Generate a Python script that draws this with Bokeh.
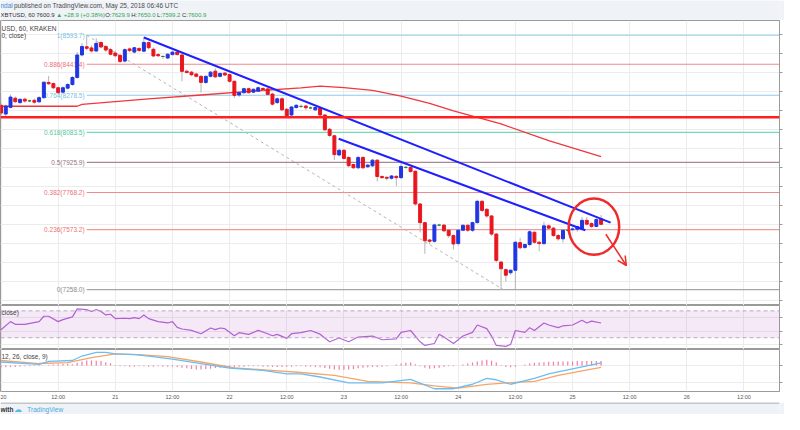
from bokeh.plotting import figure
from bokeh.layouts import column
from bokeh.models import (Range1d, FixedTicker, Span, Label, BoxAnnotation,
                          CustomJSTickFormatter, Arrow, OpenHead)
from bokeh.core.properties import value
from bokeh.embed import file_html
from bokeh.resources import INLINE

# ---------------- data (hourly candles, hour 0 = 2018-05-20 00:00 UTC) ----------------
opens = [8226, 8180, 8215, 8263, 8240, 8258, 8249, 8252, 8244, 8266,
         8346, 8340, 8318, 8295, 8316, 8335, 8372, 8490, 8533, 8527,
         8511, 8555, 8535, 8518, 8500, 8488, 8458, 8522, 8505, 8524,
         8510, 8555, 8520, 8492, 8482, 8474, 8492, 8505, 8490, 8405,
         8400, 8390, 8378, 8346, 8378, 8405, 8378, 8395, 8387, 8352,
         8280, 8292, 8313, 8295, 8300, 8314, 8312, 8285, 8240, 8260,
         8205, 8175, 8214, 8220, 8222, 8212, 8202, 8210, 8175, 8100,
         8066, 7965, 7990, 7952, 7915, 7898, 7952, 7903, 7908, 7938,
         7852, 7848, 7843, 7853, 7846, 7900, 7899, 7880, 7708, 7610,
         7519, 7512, 7597, 7597, 7570, 7542, 7500, 7570, 7596, 7570,
         7610, 7722, 7680, 7645, 7550, 7403, 7363, 7347, 7360, 7505,
         7480, 7495, 7559, 7507, 7500, 7593, 7581, 7542, 7525, 7570,
         7573, 7575, 7578, 7622, 7605, 7590, 7629.9]
highs = [8240, 8230, 8282, 8272, 8264, 8266, 8256, 8262, 8274, 8352,
         8380, 8346, 8324, 8325, 8342, 8380, 8505, 8552, 8593.7, 8540,
         8578, 8565, 8540, 8528, 8512, 8495, 8525, 8530, 8532, 8532,
         8585, 8562, 8530, 8500, 8490, 8500, 8512, 8512, 8496, 8412,
         8406, 8396, 8384, 8382, 8406, 8420, 8398, 8400, 8392, 8356,
         8296, 8318, 8318, 8315, 8324, 8322, 8318, 8290, 8266, 8268,
         8212, 8222, 8232, 8230, 8228, 8220, 8220, 8216, 8180, 8106,
         8070, 7998, 7996, 7958, 7920, 7960, 7960, 7918, 7945, 7942,
         7858, 7852, 7860, 7858, 7925, 7908, 7904, 7884, 7712, 7615,
         7524, 7605, 7604, 7602, 7575, 7548, 7575, 7602, 7602, 7615,
         7730, 7728, 7686, 7650, 7555, 7410, 7370, 7365, 7512, 7530,
         7500, 7570, 7566, 7515, 7615, 7598, 7588, 7550, 7575, 7580,
         7585, 7592, 7640, 7640, 7612, 7634, 7650.0]
lows = [8172, 8170, 8210, 8238, 8232, 8240, 8242, 8234, 8240, 8260,
        8332, 8310, 8284, 8288, 8308, 8328, 8366, 8482, 8515, 8502,
        8505, 8525, 8505, 8488, 8478, 8447, 8450, 8505, 8498, 8505,
        8505, 8520, 8478, 8480, 8470, 8468, 8488, 8488, 8352, 8392,
        8380, 8372, 8293, 8338, 8372, 8370, 8372, 8378, 8345, 8265,
        8270, 8286, 8288, 8290, 8296, 8300, 8278, 8225, 8232, 8195,
        8165, 8168, 8208, 8212, 8200, 8205, 8195, 8170, 8092, 8060,
        7938, 7958, 7940, 7900, 7892, 7890, 7890, 7898, 7902, 7826,
        7840, 7832, 7836, 7802, 7840, 7892, 7872, 7700, 7559, 7446,
        7498, 7505, 7590, 7560, 7530, 7470, 7490, 7565, 7560, 7560,
        7605, 7665, 7636, 7540, 7400, 7258, 7300, 7335, 7262, 7470,
        7470, 7485, 7500, 7460, 7492, 7572, 7536, 7515, 7505, 7560,
        7566, 7562, 7570, 7596, 7582, 7585, 7599.2]
closes = [8185, 8222, 8269, 8245, 8257, 8248, 8249, 8242, 8266, 8347,
          8339, 8318, 8292, 8318, 8335, 8372, 8490, 8535, 8525, 8511,
          8551, 8532, 8516, 8494, 8486, 8456, 8518, 8513, 8528, 8514,
          8556, 8528, 8485, 8486, 8482, 8494, 8505, 8492, 8404, 8398,
          8386, 8378, 8346, 8378, 8400, 8375, 8393, 8385, 8352, 8278,
          8292, 8313, 8292, 8310, 8318, 8308, 8283, 8232, 8260, 8202,
          8170, 8217, 8226, 8220, 8213, 8212, 8214, 8175, 8097, 8068,
          7967, 7990, 7947, 7909, 7898, 7952, 7898, 7912, 7938, 7852,
          7846, 7843, 7855, 7846, 7905, 7900, 7878, 7708, 7610, 7515,
          7512, 7598, 7597, 7567, 7542, 7498, 7570, 7596, 7570, 7610,
          7722, 7674, 7645, 7550, 7412, 7368, 7334, 7360, 7507, 7478,
          7495, 7562, 7507, 7500, 7593, 7581, 7542, 7525, 7570, 7570,
          7577, 7590, 7622, 7602, 7590, 7626, 7600.9]
hours = list(range(len(opens)))

# moving average (read at sample hours)
ma_hours = [0, 16, 17, 31, 42, 52, 63, 67, 72, 78, 84, 90, 95, 105, 115, 126]
ma_values = [8221, 8221, 8231, 8260, 8280, 8299, 8317, 8326, 8319, 8304, 8274,
             8236, 8197, 8128, 8040, 7957]

support_level = 8163

fib_labels = ["1(8593.7)", "0.886(8441.4)", "0.764(8278.5)", "0.618(8083.5)",
              "0.5(7925.9)", "0.382(7768.2)", "0.236(7573.2)", "0(7258.0)"]
fib_values = [8593.7, 8441.4, 8278.5, 8083.5, 7925.9, 7768.2, 7573.2, 7258.0]
fib_colors = ["#93d0ee", "#f08a8a", "#8fcbea", "#72dbb4", "#a88896", "#f08a8a",
              "#f29898", "#a6a6a6"]
fib_text_colors = ["#78bfe3", "#ec7272", "#78bfe3", "#55c99c", "#93727f", "#ec7272",
                   "#ec7272", "#8c8c8c"]
fib_start_hour = 18
fib_end_hour = 105.5

# drawn trend lines (start hour, start price, end hour, end price)
trend_x0 = [30, 70.9]
trend_y0 = [8582, 8050]
trend_x1 = [128.0, 122.7]
trend_y1 = [7610, 7570]

circle_hour, circle_price = 124.5, 7589
circle_w_hours, circle_h_price = 10.6, 295
arrow_from = (127.0, 7549)
arrow_to = (131.3, 7385)

# RSI
rsi_hours = [0, 2, 3, 5, 8, 9, 10, 12, 13, 15, 16, 18, 19, 20, 21, 22, 23, 24, 26, 27,
             28, 29, 30, 31, 33, 35, 36, 37, 38, 40, 42, 44, 45, 46, 47, 49, 50, 52,
             54, 56, 57, 58, 60, 61, 63, 65, 67, 69, 71, 73, 75, 78, 80, 83, 84, 86,
             88, 89, 91, 92, 93, 95, 97, 99, 100, 102, 103, 104, 106, 107, 108, 110,
             111, 112, 114, 115, 117, 118, 120, 122, 123, 124, 126]
rsi_values = [42, 54, 50, 50, 54, 62, 62, 54, 57, 61, 73, 72, 69, 72, 69, 64, 65, 58.5,
              59, 58.5, 60, 58.5, 64, 58.5, 54, 52, 54, 45.5, 43, 41, 36, 44.5, 42,
              44.5, 43.5, 33, 37.6, 35, 41, 36, 33, 35, 29, 36, 37.6, 40.8, 35.3, 24,
              29.7, 24, 31, 32.5, 27, 28.3, 38, 40.8, 24, 18.6, 21.4, 35.3, 31, 21.4,
              32.5, 38, 49, 43.6, 32.5, 18.6, 17.2, 20, 40.8, 38, 45, 40.8, 52, 49, 45,
              47.8, 49, 56, 52, 54.7, 52]

# MACD (12, 26, close, 9)
macd_hours = [0, 8, 10, 15, 17, 20, 22, 24, 28, 31, 36, 42, 48, 55, 60, 63, 67, 73, 80,
              86, 91, 95, 99, 102, 104, 107, 112, 115, 118, 126]
macd_values = [10.4, 3.4, 12.2, 14.8, 27.7, 38, 38, 33.7, 31.9, 27.7, 18.9, 6, -7,
               -13.7, -24, -24, -33, -50, -50, -39.6, -67, -67, -54, -37, -41, -54,
               -37, -24, -15.5, 7.8]
signal_hours = [0, 8, 14, 19, 24, 29, 35, 42, 49, 56, 63, 70, 77, 86, 91, 96, 102, 108,
                112, 117, 122, 126]
signal_values = [14.8, 6, 8.5, 23.3, 33.7, 31.9, 25.9, 10.4, -7, -13, -20, -28.5,
                 -45.8, -50, -58.8, -65.5, -54.4, -48.4, -45.8, -28.5, -15.5, -5]
hist_values = [-5, -5, -4, -4, -3, -2, -2, -1, -1, 0,
               2, 3, 4, 5, 5, 4, 8, 12, 15, 15, 14, 13, 10, 7,
               -1, -2, -2, -3, -3, -2, -2, -3, -3, -2, -3, -3, -3, -4,
               -6, -8, -10, -11, -11, -10, -9, -7, -6, -5, -5, -4,
               -3, -3, -2, -2, -2, -3, -3, -4, -4, -4, -3, -3, -2,
               -2, -3, -3, -4, -5, -7, -9, -11, -12, -12, -11, -10,
               -8, -6, -5, -4, -4, -3, -2, 0, 3, 6, 8, 9,
               4, -2, -6, -9, -8, -6, -4, -2, -2, 0, 3, 6,
               9, 12, 15, 17, 14, 9, 2, -4, -5, -3, 0, 3,
               6, 8, 9, 10, 11, 11, 12, 12, 12, 12, 13, 13,
               13, 13, 13, 13]

time_ticks = [0, 12, 24, 36, 48, 60, 72, 84, 96, 108, 120, 132, 144, 156]
time_labels = ["20", "12:00", "21", "12:00", "22", "12:00", "23", "12:00", "24",
               "12:00", "25", "12:00", "26", "12:00"]
price_ticks = [7200, 7300, 7400, 7500, 7600, 7700, 7800, 7900, 8000, 8100, 8200,
               8300, 8400, 8500, 8600]
rsi_ticks = [20, 40, 60]
macd_ticks = [-50, 0]

# ---------------- styling ----------------
W = 784
FONT = "Liberation Sans"
BG = "#eff2f6"
UP = "#1f36e0"
DOWN = "#e8161e"
DOJI = "#2e7d32"
BORDER = "#9a9a9a"
GRID = "#ececec"

X_START, X_END = -0.105, 163.46
xr = Range1d(X_START, X_END)


def pane(height, y_range, yticks, time_axis=False):
    p = figure(width=W, height=height, x_range=xr, y_range=y_range,
               output_backend="svg", toolbar_location=None,
               x_axis_location="below" if time_axis else None,
               y_axis_location="right",
               min_border_left=0, min_border_top=0, min_border_bottom=0,
               min_border_right=5)
    p.outline_line_color = BORDER
    p.border_fill_color = "white"
    p.yaxis.ticker = FixedTicker(ticks=yticks)
    p.yaxis.formatter = CustomJSTickFormatter(code="return ''")
    p.yaxis.major_tick_out = 3
    p.yaxis.major_tick_in = 0
    p.yaxis.minor_tick_out = 0
    p.yaxis.minor_tick_in = 0
    p.yaxis.major_label_standoff = 0
    p.yaxis.axis_line_color = BORDER
    p.yaxis.major_tick_line_color = BORDER
    p.ygrid.ticker = FixedTicker(ticks=yticks)
    p.xgrid.ticker = FixedTicker(ticks=time_ticks)
    p.grid.grid_line_color = GRID
    if time_axis:
        p.xaxis.ticker = FixedTicker(ticks=time_ticks)
        p.xaxis.major_label_overrides = {t: l for t, l in zip(time_ticks, time_labels)}
        p.xaxis.major_label_text_font_size = "5.5px"
        p.xaxis.major_label_text_font = FONT
        p.xaxis.major_label_text_color = "#555555"
        p.xaxis.axis_line_color = None
        p.xaxis.major_tick_line_color = None
        p.xaxis.minor_tick_line_color = None
        p.xaxis.major_tick_out = 0
        p.xaxis.major_tick_in = 0
        p.xaxis.minor_tick_out = 0
        p.xaxis.minor_tick_in = 0
        p.xaxis.major_label_standoff = 2
    return p


def flat(height):
    p = figure(width=W, height=height, x_range=Range1d(0, W), y_range=Range1d(0, height),
               output_backend="svg", toolbar_location=None,
               x_axis_location=None, y_axis_location=None, min_border=0)
    p.grid.visible = False
    p.outline_line_color = None
    p.background_fill_color = BG
    p.border_fill_color = BG
    return p


def lab(p, x, y, text, color="#444444", size="6.5px", style="normal"):
    p.add_layout(Label(x=x, y=y, text=text, text_color=color, text_font=FONT,
                       text_font_size=size, text_font_style=style,
                       text_baseline="middle", text_align="left"))


# ---------------- header ----------------
HH = 20
header = flat(HH)
lab(header, 0, 15, "ndal", color="#3a8bd6")
lab(header, 13.5, 15, "published on TradingView.com, May 25, 2018 06:46 UTC", color="#4a4a4a")
y2, s2 = 6, "6px"
lab(header, 0, y2, "XBTUSD, 60", color="#333333", size=s2)
lab(header, 36, y2, "7600.9", color="#333333", size=s2)
lab(header, 56, y2, "\u25b2 +28.9 (+0.38%)", color="#2fa84f", size=s2)
lab(header, 105.3, y2, "O:", color="#333333", size=s2)
lab(header, 111.6, y2, "7629.9", color="#2fa84f", size=s2)
lab(header, 131.6, y2, "H:", color="#333333", size=s2)
lab(header, 137.6, y2, "7650.0", color="#2fa84f", size=s2)
lab(header, 157.6, y2, "L:", color="#333333", size=s2)
lab(header, 162.6, y2, "7599.2", color="#2fa84f", size=s2)
lab(header, 182.6, y2, "C:", color="#333333", size=s2)
lab(header, 188.6, y2, "7600.9", color="#2fa84f", size=s2)

# ---------------- price pane ----------------
price = pane(285, Range1d(7175, 8671), price_ticks)

for v, c in zip(fib_values, fib_colors):
    price.ray(x=[fib_start_hour], y=[v], length=0, angle=0, line_color=c, line_width=1.2)
price.text(x=[fib_start_hour - 0.45] * len(fib_values), y=fib_values, text=fib_labels,
           text_color=fib_text_colors, text_align="right", text_baseline="middle",
           text_font=value(FONT), text_font_size="6.5px")
price.segment(x0=[fib_start_hour], y0=[fib_values[0]], x1=[fib_end_hour], y1=[fib_values[-1]],
              line_color="#b5b5b5", line_dash="3 3", line_width=1)

price.add_layout(Span(location=support_level, dimension="width", line_color="#ff1f1f",
                      line_width=2.5))
price.line(ma_hours, ma_values, line_color="#f2363c", line_width=1.3)

price.segment(hours, highs, hours, lows, line_color="#b4b4b4", line_width=1)
body_top = [max(o, c) for o, c in zip(opens, closes)]
body_bot = [min(o, c) for o, c in zip(opens, closes)]
colors = [UP if c > o else (DOWN if c < o else DOJI) for o, c in zip(opens, closes)]
price.vbar(x=hours, width=0.62, top=body_top, bottom=body_bot,
           fill_color=colors, line_color=colors, line_width=1)

price.segment(x0=trend_x0, y0=trend_y0, x1=trend_x1, y1=trend_y1,
              line_color="#1f1fff", line_width=2)
price.ellipse(x=[circle_hour], y=[circle_price], width=circle_w_hours, height=circle_h_price,
              fill_color=None, line_color="#ef2a2a", line_width=2.5)
price.add_layout(Arrow(end=OpenHead(size=9, line_color="#ef2a2a", line_width=1.5),
                       x_start=arrow_from[0], y_start=arrow_from[1],
                       x_end=arrow_to[0], y_end=arrow_to[1],
                       line_color="#ef2a2a", line_width=1.5))

price.add_layout(Label(x=X_START, y=8630, text="USD, 60, KRAKEN", text_color="#444444",
                       text_font=FONT, text_font_size="6.5px", text_baseline="middle",
                       x_offset=1))
price.add_layout(Label(x=X_START, y=8594, text="0, close)", text_color="#444444",
                       text_font=FONT, text_font_size="6.5px", text_baseline="middle",
                       x_offset=1))
for lvl in (support_level, closes[-1]):
    price.add_layout(Label(x=X_END, y=lvl, text=" ", text_font_size="6px",
                           text_baseline="middle", background_fill_color="#ff1f1f",
                           x_offset=1, padding=1))

# ---------------- RSI pane ----------------
rsi = pane(44, Range1d(12.5, 78), rsi_ticks)
rsi.add_layout(BoxAnnotation(bottom=30, top=70, fill_color="#9c27b0", fill_alpha=0.1,
                             line_color=None))
for lvl in (30, 70):
    rsi.add_layout(Span(location=lvl, dimension="width", line_color="#bca8c8",
                        line_dash="4 3", line_width=1))
rsi.line(rsi_hours, rsi_values, line_color="#b566d6", line_width=1.2)
rsi.add_layout(Label(x=X_START, y=67.5, text="close)", text_color="#444444", text_font=FONT,
                     text_font_size="6.5px", text_baseline="middle", x_offset=1))

# ---------------- MACD pane ----------------
macd = pane(53, Range1d(-75, 46.6), macd_ticks, time_axis=True)
macd.segment(hours, [0] * len(hours), hours, hist_values, line_color="#f06595",
             line_width=1.2, line_alpha=0.85)
macd.line(signal_hours, signal_values, line_color="#f7a468", line_width=1.3)
macd.line(macd_hours, macd_values, line_color="#6cbdf3", line_width=1.3)
macd.add_layout(Label(x=X_START, y=27, text="12, 26, close, 9)", text_color="#444444",
                      text_font=FONT, text_font_size="6.5px", text_baseline="middle",
                      x_offset=1))

# ---------------- footer ----------------
FH = 12
footer = flat(FH)
footer.add_layout(Span(location=FH - 0.5, dimension="width", line_color=BORDER, line_width=1))
lab(footer, 0, 5.5, "with", color="#333333", size="6.5px", style="bold")
lab(footer, 14, 5.5, "\u2601", color="#5bb8e8", size="8px")
lab(footer, 27, 5.5, "TradingView", color="#45ace0", size="6.5px")

layout = column(header, price, rsi, macd, footer, spacing=0)
open("out.html", "w").write(file_html(layout, INLINE))
